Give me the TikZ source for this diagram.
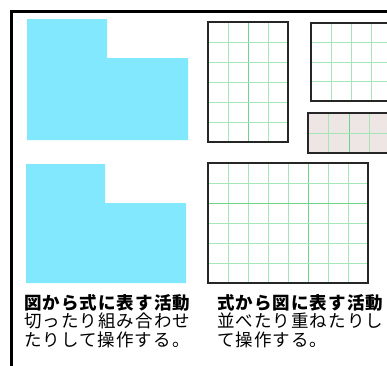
\documentclass[tikz,border=0pt]{standalone}
\usepackage{fontspec}
\newfontfamily\cjk[LetterSpace=6]{Noto Sans CJK JP}
\definecolor{paper}{RGB}{130,232,253}
\definecolor{gl}{RGB}{165,230,185}
\definecolor{gd}{RGB}{110,210,140}
\definecolor{pinkish}{RGB}{238,229,229}
\tikzset{
  gridline/.style={gl,line width=0.8pt},
  gridstrong/.style={gd,line width=1pt},
  box/.style={draw=black!85,line width=2pt},
  cutpaper/.style={fill=paper},
  lbl/.style={anchor=base west,inner sep=0pt,font=\cjk\fontsize{17.5}{18}\selectfont},
  lblb/.style={lbl,font=\cjk\bfseries\fontsize{17.5}{18}\selectfont}
}
\begin{document}
\begin{tikzpicture}[x=1pt,y=-1pt]
\useasboundingbox (0,0) rectangle (387,365);
\fill[white] (0,0) rectangle (387,365);
\begin{scope}
\clip (0,0) rectangle (387,365);
% frame
\draw[line width=2.3pt] (11.5,400) -- (11.5,11.5) -- (400,11.5);
% blue L-shapes
\fill[cutpaper] (27,19) -- (107,19) -- (107,58) -- (188,58) -- (188,140) -- (27,140) -- cycle;
\fill[cutpaper] (26,164) -- (105,164) -- (105,203) -- (186,203) -- (186,283) -- (26,283) -- cycle;
% rect A
\foreach \x in {228,268} \draw[gridline] (\x,22) -- (\x,142);
\draw[gridstrong] (248,22) -- (248,142);
\foreach \y in {42,62,82,102,122} \draw[gridline] (208,\y) -- (288,\y);
\draw[box] (208,22) rectangle (288,142);
% rect B
\foreach \x in {331,351,371} \draw[gridline] (\x,23) -- (\x,101);
\foreach \y in {42.5,62,81.5} \draw[gridline] (311,\y) -- (392,\y);
\draw[box] (311,23) rectangle (392,101);
% rect C
\fill[pinkish] (308,113) rectangle (390,153);
\foreach \x in {328,369} \draw[gridline] (\x,113) -- (\x,153);
\draw[gridstrong] (349,113) -- (349,153);
\draw[gridline] (308,133) -- (390,133);
\draw[box] (308,113) rectangle (390,153);
% rect D
\foreach \x in {228,248,268,288,328,348} \draw[gridline] (\x,163) -- (\x,283);
\draw[gridstrong] (308,163) -- (308,283);
\foreach \y in {183,223,243,263} \draw[gridline] (208,\y) -- (368,\y);
\draw[gridstrong] (208,203) -- (368,203);
\draw[box] (208,163) rectangle (368,283);
\end{scope}
% texts
\node[lblb] (l1) at (24,309) {図から式に表す活動};
\node[lbl] (l2) at (24,327.5) {切ったり組み合わせ};
\node[lbl] (l3) at (24,346) {たりして操作する。};
\node[lblb] (r1) at (217,309) {式から図に表す活動};
\node[lbl] (r2) at (217,327.5) {並べたり重ねたりし};
\node[lbl] (r3) at (217,346) {て操作する。};
\end{tikzpicture}
\end{document}
